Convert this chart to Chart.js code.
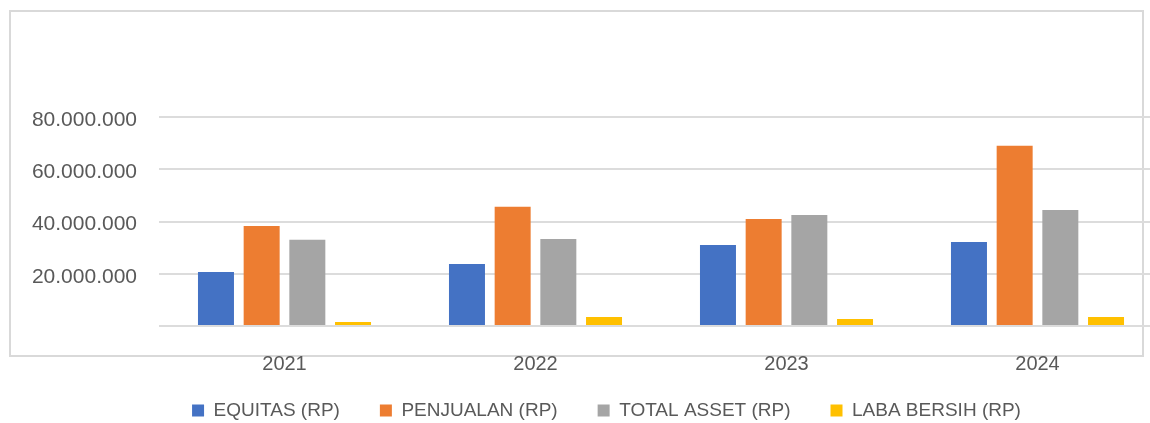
<!DOCTYPE html>
<html>
<head>
<meta charset="utf-8">
<script src="https://cdn.jsdelivr.net/npm/chart.js@4"></script>
<style>
  html, body { margin: 0; padding: 0; background: #fff; overflow: hidden; width: 1150px; height: 423px; }
  #wrap { position: absolute; left: 0; top: 0; width: 1170px; height: 423px; z-index: 1; }
  #frame { position: absolute; left: 9px; top: 10px; width: 1135px; height: 347px; box-sizing: border-box; border: 2px solid #d9d9d9; pointer-events: none; z-index: 0; }
</style>
</head>
<body>
<div id="frame"></div>
<div id="wrap"><canvas id="c"></canvas></div>
<script>
const categories = ['2021', '2022', '2023', '2024'];
const seriesNames = ['EQUITAS (RP)', 'PENJUALAN (RP)', 'TOTAL ASSET (RP)', 'LABA BERSIH (RP)'];
const equitas = [20700000, 23700000, 31000000, 32200000];
const penjualan = [38300000, 45600000, 41000000, 69000000];
const totalAsset = [33000000, 33300000, 42500000, 44400000];
const labaBersih = [1500000, 3400000, 2700000, 3400000];
const yTicks = [0, 20000000, 40000000, 60000000, 80000000];
const colors = ['#4472C4', '#ED7D31', '#A5A5A5', '#FFC000'];

function fmt(v) {
  return String(Math.round(v)).replace(/\B(?=(\d{3})+(?!\d))/g, '.');
}

const seriesData = [equitas, penjualan, totalAsset, labaBersih];
const datasets = seriesNames.map((n, i) => ({
  label: n,
  data: seriesData[i],
  backgroundColor: colors[i],
  borderWidth: 0,
  barPercentage: 0.788,
  categoryPercentage: 0.728
}));

const legendShift = {
  id: 'legendShift',
  afterLayout(chart) {
    if (chart.legend) {
      chart.legend.left += 50;
      chart.legend.top -= 15;
    }
  }
};

new Chart(document.getElementById('c'), {
  type: 'bar',
  data: { labels: categories, datasets },
  plugins: [legendShift],
  options: {
    responsive: true,
    maintainAspectRatio: false,
    animation: false,
    layout: { padding: { top: 117, left: 0, right: 7, bottom: 0 } },
    plugins: {
      tooltip: { enabled: false },
      legend: {
        position: 'bottom',
        maxHeight: 47,
        labels: {
          boxWidth: 12,
          boxHeight: 12,
          padding: 40,
          color: '#595959',
          font: { family: 'Liberation Sans', size: 19 }
        }
      }
    },
    scales: {
      x: {
        grid: { display: false, drawTicks: false },
        border: { display: false },
        ticks: { color: '#595959', padding: 26, font: { family: 'Liberation Sans', size: 20 } },
        afterFit(scale) { scale.height = 50; }
      },
      y: {
        min: 0,
        max: 80000000,
        afterBuildTicks(scale) { scale.ticks = yTicks.map(v => ({ value: v })); },
        grid: { color: '#dcdcdc', lineWidth: 2, drawTicks: false },
        border: { display: false },
        ticks: {
          color: '#595959',
          padding: 22,
          font: { family: 'Liberation Sans', size: 21, lineHeight: '6px' },
          callback: (v) => (v === 0 ? '' : ['', fmt(v)])
        },
        afterFit(scale) { scale.width = 159; }
      }
    }
  }
});
</script>
</body>
</html>
